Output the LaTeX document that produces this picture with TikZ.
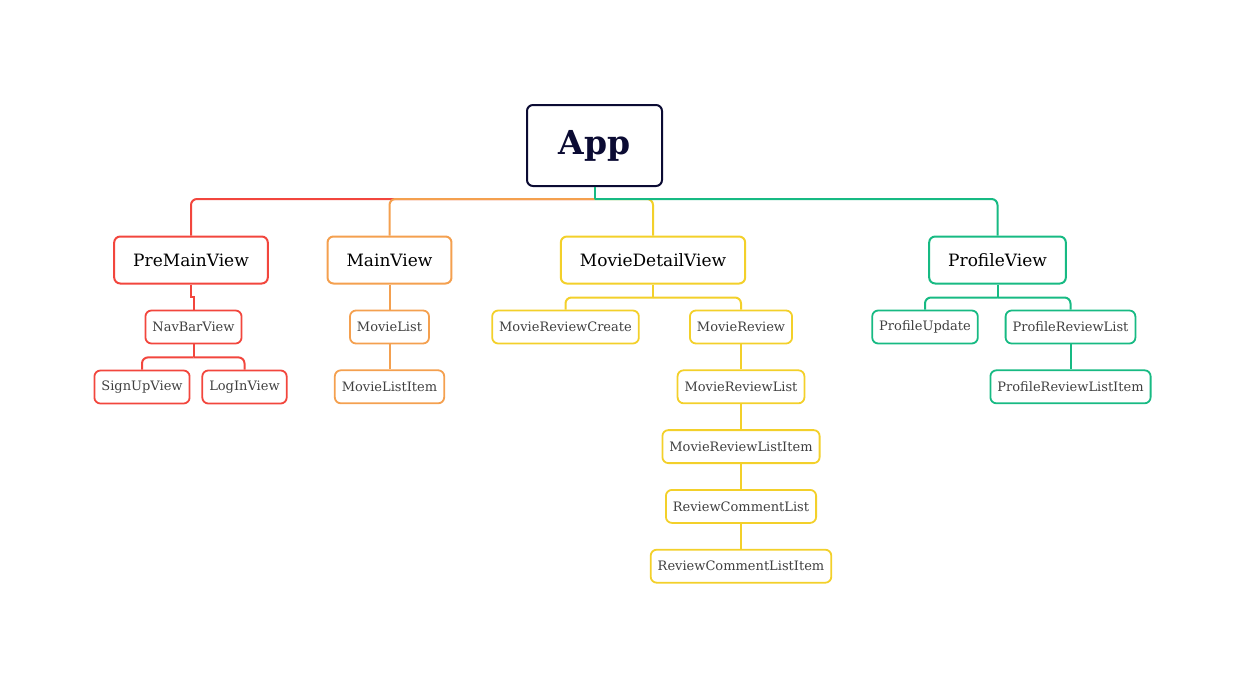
\documentclass[tikz,border=0pt]{standalone}
\usepackage{fontspec}
\setmainfont{DejaVu Serif}
\usepackage{tikz}
\usetikzlibrary{calc,positioning}

\definecolor{appc}{HTML}{0B0B33}
\definecolor{redc}{HTML}{F2463D}
\definecolor{orac}{HTML}{F4A04F}
\definecolor{yelc}{HTML}{F3D02A}
\definecolor{grnc}{HTML}{17BA83}

\tikzset{
	root/.style={draw=appc,text=appc,rounded corners=6pt,line width=2pt,minimum width=135pt,minimum height=81pt,font=\fontsize{33}{36}\selectfont\bfseries},
	big/.style={draw,rounded corners=6pt,line width=2pt,minimum height=47pt,inner xsep=19pt,font=\fontsize{17}{20}\selectfont,text=black},
	small/.style={draw,rounded corners=6pt,line width=1.8pt,minimum height=33pt,inner xsep=7pt,font=\fontsize{13}{15}\selectfont,text=black!75},
	link/.style={line width=2pt},
	elbow/.style={line width=2pt,rounded corners=6pt},
}

\begin{document}
\begin{tikzpicture}[x=1pt,y=-1pt]
		\useasboundingbox (0,0) rectangle (1246,672);
		% root
		\node(app) at (594.5,145.5) [root] {App};
		\coordinate(bus) at (594.5,199);
		% first level
		\node(pre) at (191,260) [big,draw=redc] {PreMainView};
		\node(main) at (389.5,260) [big,draw=orac] {MainView};
		\node(detail) at (653,260) [big,draw=yelc] {MovieDetailView};
		\node(prof) at (997.5,260) [big,draw=grnc] {ProfileView};
		% PreMainView branch
		\node(nav) at (193.5,327) [small,draw=redc] {NavBarView};
		\node(sign) at (142,387) [small,draw=redc] {SignUpView};
		\node(login) at (244.5,387) [small,draw=redc] {LogInView};
		% MainView branch
		\node(list) at (389.5,327) [small,draw=orac] {MovieList};
		\node(item) [below=25pt of list,small,draw=orac] {MovieListItem};
		% MovieDetailView branch
		\node(create) at (565.5,327) [small,draw=yelc] {MovieReviewCreate};
		\node(rev) at (741,327) [small,draw=yelc] {MovieReview};
		\node(revl) [below=25pt of rev,small,draw=yelc] {MovieReviewList};
		\node(revi) [below=25pt of revl,small,draw=yelc] {MovieReviewListItem};
		\node(coml) [below=25pt of revi,small,draw=yelc] {ReviewCommentList};
		\node(comi) [below=25pt of coml,small,draw=yelc] {ReviewCommentListItem};
		% ProfileView branch
		\node(upd) at (925,327) [small,draw=grnc] {ProfileUpdate};
		\node(prl) at (1070.5,327) [small,draw=grnc] {ProfileReviewList};
		\node(pri) [below=25pt of prl,small,draw=grnc] {ProfileReviewListItem};
		% junctions
		\coordinate(navbus) at ($(nav.south)+(0,13)$);
		\coordinate(detbus) at ($(detail.south)+(0,13)$);
		\coordinate(profbus) at ($(prof.south)+(0,13)$);
		% links from the root
		\draw[elbow,redc] (bus) -| (pre.north);
		\draw[elbow,orac] (bus) -| (main.north);
		\draw[elbow,yelc] (bus) -| (detail.north);
		\draw[elbow,grnc] (bus) -| (prof.north);
		\draw[link,grnc] (app.south) -- (bus);
		% links below
		\draw[link,redc] (pre.south) -- ++(0,12) -| (nav.north);
		\draw[link,redc] (nav.south) -- (navbus);
		\draw[elbow,redc] (navbus) -| (sign.north);
		\draw[elbow,redc] (navbus) -| (login.north);
		\draw[link,orac] (main) -- (list) -- (item);
		\draw[link,yelc] (detail.south) -- (detbus);
		\draw[elbow,yelc] (detbus) -| (create.north);
		\draw[elbow,yelc] (detbus) -| (rev.north);
		\draw[link,yelc] (rev) -- (revl) -- (revi) -- (coml) -- (comi);
		\draw[link,grnc] (prof.south) -- (profbus);
		\draw[elbow,grnc] (profbus) -| (upd.north);
		\draw[elbow,grnc] (profbus) -| (prl.north);
		\draw[link,grnc] (prl) -- (pri);
	\end{tikzpicture}
\end{document}
